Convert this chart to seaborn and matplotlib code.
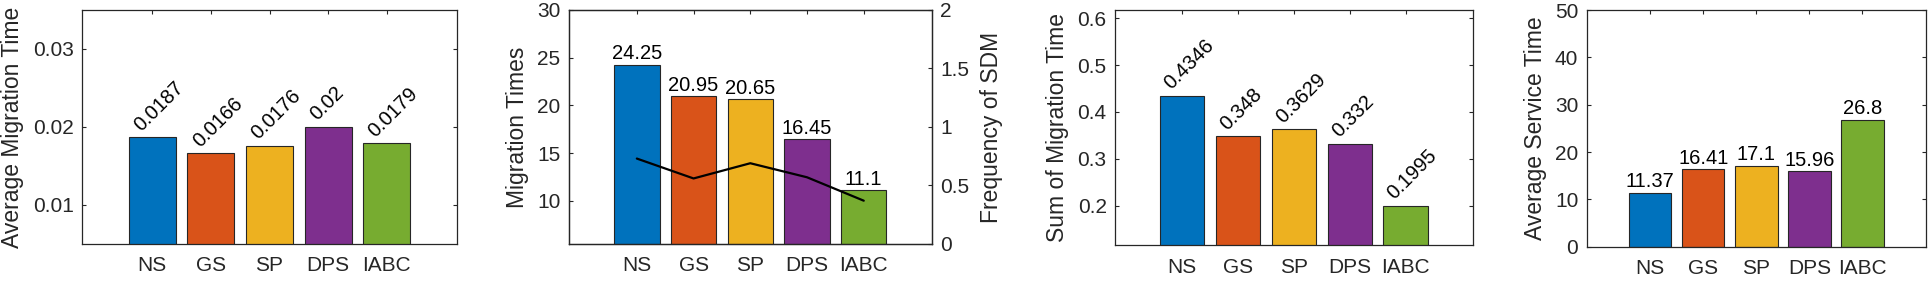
import numpy as np
import pandas as pd
import seaborn as sns
import matplotlib.pyplot as plt
from matplotlib.ticker import FuncFormatter

# ==========================================
# DATA
# ==========================================

methods = ['NS', 'GS', 'SP', 'DPS', 'IABC']

avg_migration_time = [0.0187, 0.0166, 0.0176, 0.02, 0.0179]
migration_times = [24.25, 20.95, 20.65, 16.45, 11.1]
sdm_frequency = [0.73, 0.56, 0.69, 0.57, 0.37]
sum_migration_time = [0.4346, 0.348, 0.3629, 0.332, 0.1995]
avg_service_time = [11.37, 16.41, 17.1, 15.96, 26.8]

# MATLAB default colour order
colors = ['#0072BD', '#D95319', '#EDB120', '#7E2F8E', '#77AC30']

# ==========================================
# STYLE
# ==========================================

sns.set_style('white')
plt.rcParams['font.family'] = ['Liberation Sans', 'DejaVu Sans']

TICK_SIZE = 15
LABEL_SIZE = 16.5
VALUE_SIZE = 14.5
AX_COLOR = '#262626'

fig = plt.figure(figsize=(19.3, 2.82), dpi=100)

fmt = FuncFormatter(lambda v, p: f'{v:g}')


def style_axes(ax, right=True):
    ax.tick_params(direction='in', length=3, width=0.8, colors=AX_COLOR,
                   labelsize=TICK_SIZE, top=True, right=right,
                   bottom=True, left=True)
    ax.tick_params(axis='x', pad=9)
    ax.tick_params(axis='y', pad=6)
    for sp in ax.spines.values():
        sp.set_color(AX_COLOR)
        sp.set_linewidth(0.9)
        sp.set_visible(True)
    ax.yaxis.set_major_formatter(fmt)


def draw_bars(ax, values, ylabel, ylim, yticks, rotated):
    df = pd.DataFrame({'method': methods, 'value': values})
    sns.barplot(data=df, x='method', y='value', hue='method',
                palette=colors, saturation=1, legend=False, width=0.8,
                edgecolor=AX_COLOR, linewidth=0.8, ax=ax)
    ax.set_xlim(-1.2, 5.2)
    ax.set_ylim(*ylim)
    ax.set_yticks(yticks)
    ax.set_xlabel('')
    ax.set_ylabel(ylabel, fontsize=LABEL_SIZE, color=AX_COLOR)
    for i, v in enumerate(values):
        if rotated:
            ax.annotate(f'{v:g}', (i, v), xytext=(-8, 4),
                        textcoords='offset points', rotation=45,
                        rotation_mode='anchor', ha='left', va='baseline',
                        fontsize=VALUE_SIZE, color='black')
        else:
            ax.annotate(f'{v:g}', (i, v), xytext=(0, 1),
                        textcoords='offset points', ha='center',
                        va='bottom', fontsize=VALUE_SIZE, color='black')


# Panel 1: average migration time
ax1 = fig.add_axes([0.0425, 0.1348, 0.1943, 0.8300])
draw_bars(ax1, avg_migration_time, 'Average Migration Time',
          (0.005, 0.035), [0.01, 0.02, 0.03], rotated=True)
style_axes(ax1)
ax1.yaxis.labelpad = 6

# Panel 2: migration times + SDM frequency
ax2 = fig.add_axes([0.2947, 0.1348, 0.1881, 0.8300])
draw_bars(ax2, migration_times, 'Migration Times',
          (5.5, 30), [10, 15, 20, 25, 30], rotated=False)
style_axes(ax2, right=False)
ax2.yaxis.labelpad = 6

ax2r = ax2.twinx()
sns.lineplot(x=methods, y=sdm_frequency, sort=False, color='black',
             linewidth=1.6, ax=ax2r)
ax2r.set_ylim(0, 2)
ax2r.set_yticks([0, 0.5, 1, 1.5, 2])
ax2r.set_xlim(-1.2, 5.2)
ax2r.set_xlabel('')
ax2r.set_ylabel('Frequency of SDM', fontsize=LABEL_SIZE, color=AX_COLOR)
ax2r.tick_params(direction='in', length=3, width=0.8, colors=AX_COLOR,
                 labelsize=TICK_SIZE, right=True, left=False, pad=6)
ax2r.yaxis.set_major_formatter(fmt)
for sp in ax2r.spines.values():
    sp.set_color(AX_COLOR)
    sp.set_linewidth(0.9)
ax2r.yaxis.labelpad = 8

# Panel 3: sum of migration time
ax3 = fig.add_axes([0.5777, 0.1300, 0.1855, 0.8345])
draw_bars(ax3, sum_migration_time, 'Sum of Migration Time',
          (0.1155, 0.6175), [0.2, 0.3, 0.4, 0.5, 0.6], rotated=True)
style_axes(ax3)
ax3.yaxis.labelpad = 6

# Panel 4: average service time
ax4 = fig.add_axes([0.8221, 0.1252, 0.1758, 0.8393])
draw_bars(ax4, avg_service_time, 'Average Service Time',
          (0, 50), [0, 10, 20, 30, 40, 50], rotated=False)
style_axes(ax4)
ax4.yaxis.labelpad = 6

plt.savefig('out.png', dpi=100)
plt.close()
